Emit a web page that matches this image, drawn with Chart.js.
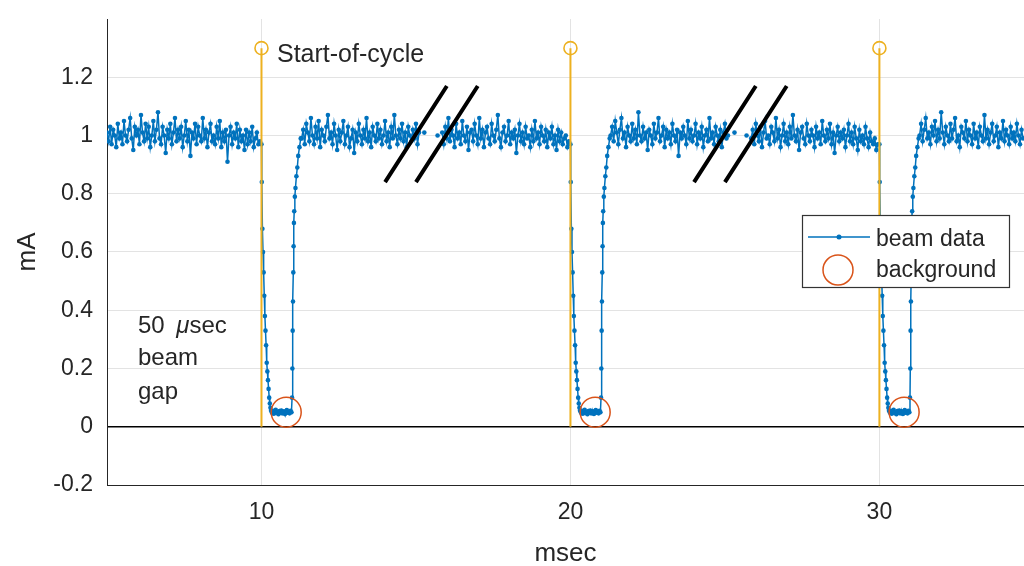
<!DOCTYPE html>
<html>
<head>
<meta charset="utf-8">
<script src="https://cdn.jsdelivr.net/npm/chart.js@4.4.1/dist/chart.umd.min.js"></script>
<style>
  html, body { margin: 0; padding: 0; background: #fff; overflow: hidden; }
  #wrap { width: 1024px; height: 566px; position: relative; }
</style>
</head>
<body>
<div id="wrap"><canvas id="chart"></canvas></div>
<script>
// sample spacing of the flat (beam on) parts, msec
const STEP = 0.05;

// start time of each flat part
const flatStarts = [5.00, 11.30, 15.85, 21.30, 25.85, 31.30];

// beam current, mA
const flat1 = [
  1.01,0.98,1.03,0.97,1.02,1.00,0.96,1.04,0.99,1.01,
  0.97,1.05,1.00,0.98,1.02,1.06,0.99,0.95,1.03,1.00,
  1.02,0.97,1.07,1.01,0.98,1.04,0.99,1.03,0.96,1.00,
  1.05,0.98,1.02,1.08,0.99,0.97,1.03,1.00,0.94,1.02,
  0.99,1.04,0.97,1.01,1.06,0.98,1.02,0.99,1.03,0.96,
  1.00,1.05,0.98,1.02,0.93,1.01,0.99,1.04,0.97,1.03,
  1.00,0.98,1.06,0.99,1.02,0.96,1.01,1.04,0.98,1.00,
  0.97,1.03,0.99,1.05,0.96,1.01,0.98,1.02,0.91,1.00,
  1.03,0.97,1.01,0.99,1.04,0.96,1.02,0.98,1.00,0.95,
  1.02,0.97,1.01,0.98,1.03,0.96,0.99,1.01,0.97,0.98
];
const flat2 = [
  0.99,1.02,0.97,1.04,1.01,0.98,1.06,1.00,0.97,1.03,
  0.99,1.05,0.96,1.02,1.00,0.98,1.03,1.07,0.99,1.01,
  0.97,1.04,1.00,0.95,1.02,0.98,1.01,1.05,0.97,1.00,
  1.03,0.96,0.99,1.02,0.94,1.01,0.98,1.04,1.00,0.97,
  1.02,0.99,1.06,0.98,1.01,0.96,1.03,1.00,0.98,1.04,
  0.99,1.02,0.97,1.00,1.05,0.98,1.01,0.96,1.03,0.99,
  1.07,1.00,0.97,1.02,0.99,1.04,0.98,1.01,0.96,1.03,
  1.00,0.98,1.02,0.99,1.04,0.97,1.01
];
const flat3 = [
  1.01,0.97,1.03,0.99,1.06,0.98,1.02,1.00,0.96,1.04,
  0.99,1.01,0.97,1.05,1.00,0.98,1.03,0.95,1.01,1.02,
  0.98,1.04,1.00,0.97,1.06,0.99,1.02,0.96,1.01,1.03,
  0.99,0.97,1.04,1.00,0.98,1.02,1.07,0.99,0.96,1.01,
  1.03,0.98,1.00,1.05,0.97,1.01,0.99,1.02,0.94,1.00,
  1.04,0.98,1.01,0.97,1.03,0.99,1.00,0.96,1.02,0.98,
  1.05,0.99,1.01,0.97,1.03,1.00,0.98,1.02,0.96,1.01,
  0.99,1.03,0.97,1.00,0.95,1.02,0.98,1.01,0.97,0.99,
  1.00,0.96,0.98
];
const flat4 = [
  1.00,1.03,0.98,1.05,1.01,0.97,1.02,1.06,0.99,1.01,
  0.96,1.03,1.00,0.98,1.04,0.99,1.02,0.97,1.08,1.00,
  0.98,1.03,0.99,1.01,0.95,1.02,1.00,0.97,1.04,0.99,
  1.01,1.06,0.98,1.00,1.03,0.96,1.02,0.99,1.01,0.97,
  1.04,1.00,0.98,1.02,0.93,1.01,0.99,1.03,1.00,0.97,
  1.05,0.99,1.02,0.98,1.00,1.04,0.97,1.01,0.99,1.03,
  0.96,1.00,1.02,0.98,1.06,0.99,1.01,0.97,1.03,1.00,
  0.98,1.02,0.96,1.01,1.04,0.99,1.00
];
const flat5 = [
  0.99,1.02,0.97,1.04,1.00,0.98,1.03,0.96,1.01,1.05,
  0.99,1.00,0.97,1.03,1.01,0.98,1.06,0.99,1.02,0.96,
  1.00,1.04,0.98,1.01,0.97,1.03,0.99,1.07,1.00,0.98,
  1.02,0.95,1.01,1.03,0.99,0.97,1.04,1.00,0.98,1.02,
  1.00,0.96,1.03,0.99,1.01,0.97,1.05,1.00,0.98,1.02,
  0.99,1.04,0.97,1.01,0.94,1.00,1.03,0.98,1.01,0.99,
  1.02,0.96,1.00,1.04,0.98,1.01,0.97,1.03,0.99,0.95,
  1.02,0.98,1.00,0.97,1.03,0.99,0.96,1.01,0.98,0.97,
  0.99,0.95,0.97
];
const flat6 = [
  1.00,1.04,0.98,1.02,1.06,0.99,1.01,0.97,1.03,1.00,
  1.05,0.98,1.02,0.99,1.08,1.01,0.97,1.03,1.00,0.98,
  1.04,0.99,1.02,1.06,0.98,1.00,0.96,1.03,1.01,0.99,
  1.05,0.98,1.02,1.00,0.97,1.04,0.99,1.01,0.96,1.03,
  1.00,0.98,1.07,0.99,1.02,0.97,1.01,1.04,0.98,1.00,
  1.03,0.96,1.01,0.99,1.05,0.98,1.02,1.00,0.97,1.03,
  0.99,1.01,0.98,1.04,1.00,0.97,1.02,0.99
];

// beam gap shape, time after start of cycle (msec) and current (mA)
const dipT = [
  0.00,0.01,0.03,0.05,0.07,0.09,0.11,0.13,0.15,0.17,0.19,0.21,0.23,0.25,0.27,0.29,0.31,
  0.34,0.37,0.40,0.43,0.46,0.49,0.52,0.55,0.58,0.61,0.64,0.67,0.70,0.73,0.76,0.79,0.82,0.85,0.88,0.91,0.94,0.97,
  0.99,1.00,1.01,1.02,1.03,1.04,1.05,1.06,1.08,1.10,1.13,1.16,1.19,1.23,1.27
];
const dipV = [
  0.97,0.84,0.68,0.60,0.53,0.45,0.38,0.33,0.28,0.22,0.19,0.16,0.13,0.10,0.08,0.065,0.055,
  0.048,0.055,0.045,0.052,0.058,0.047,0.050,0.043,0.054,0.049,0.056,0.046,0.051,0.053,0.044,0.050,0.057,0.048,0.052,0.046,0.055,0.050,
  0.10,0.20,0.33,0.43,0.53,0.62,0.70,0.74,0.79,0.82,0.86,0.89,0.93,0.96,0.99
];

// start-of-cycle markers
const cycleStarts = [10, 20, 30];
const stemHeight = 1.3;

// background samples
const bgT = [10.8, 20.8, 30.8];
const bgV = [0.05, 0.05, 0.05];

// the few samples shown inside the time breaks
const breakDotT = [15.27, 15.70, 25.31, 25.70];
const breakDotV = [1.01, 1.00, 1.01, 1.00];

// break marks (//), each from (x0, low) to (x0 + run, high)
const slashX0 = [14, 15, 24, 25];
const slashRun = 2;
const slashLow = 0.84;
const slashHigh = 1.17;

const xTicks = [10, 20, 30];
const yTicks = [-0.2, 0, 0.2, 0.4, 0.6, 0.8, 1.0, 1.2];

const BLUE = '#0072BD';
const ORANGE = '#EDB120';
const RED = '#D95319';
const TXT = '#262626';
const FONT = '"Liberation Sans", Arial, Helvetica, sans-serif';

// assemble the beam trace
const beam = [];
function pushFlat(t0, vals) {
  vals.forEach((v, i) => beam.push({ x: +(t0 + i * STEP).toFixed(3), y: v }));
}
function pushDip(c) {
  dipT.forEach((t, i) => beam.push({ x: c + t, y: dipV[i] }));
}
function pushGap(t) { beam.push({ x: t, y: null }); }

pushFlat(flatStarts[0], flat1);
pushDip(cycleStarts[0]);
pushFlat(flatStarts[1], flat2);
pushGap(15.2);
pushFlat(flatStarts[2], flat3);
pushDip(cycleStarts[1]);
pushFlat(flatStarts[3], flat4);
pushGap(25.2);
pushFlat(flatStarts[4], flat5);
pushDip(cycleStarts[2]);
pushFlat(flatStarts[5], flat6);

const stems = [];
cycleStarts.forEach(c => {
  stems.push({ x: c, y: 0 }, { x: c, y: stemHeight }, { x: c, y: null });
});

const slashes = [];
slashX0.forEach(x0 => {
  slashes.push({ x: x0, y: slashLow }, { x: x0 + slashRun, y: slashHigh }, { x: x0, y: null });
});

const annotations = {
  id: 'annotations',
  afterDraw(chart) {
    const ctx = chart.ctx;
    ctx.save();
    ctx.fillStyle = TXT;
    ctx.textBaseline = 'alphabetic';
    ctx.textAlign = 'left';
    ctx.font = '25px ' + FONT;
    ctx.fillText('Start-of-cycle', 277, 62);

    // 50 µsec beam gap
    ctx.font = '24px ' + FONT;
    ctx.fillText('50', 138, 333);
    let x = 138 + ctx.measureText('50 ').width + 5;
    ctx.font = 'italic 24px ' + FONT;
    ctx.fillText('\u03bc', x, 333);
    x += ctx.measureText('\u03bc').width;
    ctx.font = '24px ' + FONT;
    ctx.fillText('sec', x, 333);
    ctx.fillText('beam', 138, 365);
    ctx.fillText('gap', 138, 399);

    // legend
    ctx.fillStyle = '#fff';
    ctx.fillRect(802, 215, 207, 72);
    ctx.strokeStyle = '#333';
    ctx.lineWidth = 1.2;
    ctx.strokeRect(802.5, 215.5, 207, 72);

    ctx.strokeStyle = BLUE;
    ctx.lineWidth = 1.4;
    ctx.beginPath();
    ctx.moveTo(808, 237);
    ctx.lineTo(870, 237);
    ctx.stroke();
    ctx.fillStyle = BLUE;
    ctx.beginPath();
    ctx.arc(839, 237, 2.5, 0, Math.PI * 2);
    ctx.fill();

    ctx.strokeStyle = RED;
    ctx.lineWidth = 1.5;
    ctx.beginPath();
    ctx.arc(838, 270, 15, 0, Math.PI * 2);
    ctx.stroke();

    ctx.fillStyle = TXT;
    ctx.font = '23px ' + FONT;
    ctx.fillText('beam data', 876, 246);
    ctx.fillText('background', 876, 277);
    ctx.restore();
  }
};

new Chart(document.getElementById('chart'), {
  type: 'scatter',
  data: {
    datasets: [
      {
        label: 'beam data',
        data: beam,
        showLine: true,
        spanGaps: false,
        borderColor: BLUE,
        backgroundColor: BLUE,
        borderWidth: 1.5,
        pointRadius: 2.3,
        pointBorderWidth: 0,
        order: 5
      },
      {
        label: 'break samples',
        data: breakDotT.map((t, i) => ({ x: t, y: breakDotV[i] })),
        showLine: false,
        backgroundColor: BLUE,
        pointRadius: 2.3,
        pointBorderWidth: 0,
        order: 4
      },
      {
        label: 'break',
        data: slashes,
        showLine: true,
        spanGaps: false,
        borderColor: '#000',
        borderWidth: 4,
        pointRadius: 0,
        order: 3
      },
      {
        label: 'Start-of-cycle',
        data: stems,
        showLine: true,
        spanGaps: false,
        borderColor: ORANGE,
        borderWidth: 2,
        pointRadius: ctx => (ctx.raw && ctx.raw.y === stemHeight ? 6.5 : 0),
        pointBorderColor: ORANGE,
        pointBackgroundColor: 'rgba(0,0,0,0)',
        pointBorderWidth: 1.6,
        order: 2
      },
      {
        label: 'background',
        data: bgT.map((t, i) => ({ x: t, y: bgV[i] })),
        showLine: false,
        pointRadius: 15,
        pointBorderColor: RED,
        pointBackgroundColor: 'rgba(0,0,0,0)',
        pointBorderWidth: 1.5,
        order: 1
      }
    ]
  },
  options: {
    responsive: true,
    maintainAspectRatio: false,
    animation: false,
    events: [],
    layout: { autoPadding: false, padding: { top: 19, right: 0, left: 0, bottom: 0 } },
    plugins: {
      legend: { display: false },
      tooltip: { enabled: false }
    },
    scales: {
      x: {
        type: 'linear',
        min: 5,
        max: 34.68,
        afterBuildTicks: s => { s.ticks = xTicks.map(v => ({ value: v })); },
        afterFit: s => { s.height = 81; s.paddingLeft = 0; s.paddingRight = 0; },
        ticks: {
          color: TXT,
          font: { family: FONT, size: 23 },
          padding: 14,
          callback: v => String(v)
        },
        grid: { color: '#e3e3e3', drawTicks: false },
        border: { display: true, color: TXT, width: 1 },
        title: {
          display: true,
          text: 'msec',
          color: TXT,
          font: { family: FONT, size: 26, lineHeight: 1 },
          padding: { top: 0, bottom: -1 }
        }
      },
      y: {
        min: -0.2,
        max: 1.4,
        afterBuildTicks: s => { s.ticks = yTicks.map(v => ({ value: v })); },
        afterFit: s => { s.width = 107; s.paddingTop = 0; s.paddingBottom = 0; },
        ticks: {
          color: TXT,
          font: { family: FONT, size: 23 },
          padding: 14,
          callback: v => String(Number(v.toFixed(1)))
        },
        grid: {
          color: c => (c.tick && Math.abs(c.tick.value) < 1e-9 ? '#000' : '#e3e3e3'),
          lineWidth: c => (c.tick && Math.abs(c.tick.value) < 1e-9 ? 1.5 : 1),
          drawTicks: false
        },
        border: { display: true, color: TXT, width: 1 },
        title: {
          display: true,
          text: 'mA',
          color: TXT,
          font: { family: FONT, size: 26, lineHeight: 1.2 },
          padding: { top: 12, bottom: 0 }
        }
      }
    }
  },
  plugins: [annotations]
});
</script>
</body>
</html>
